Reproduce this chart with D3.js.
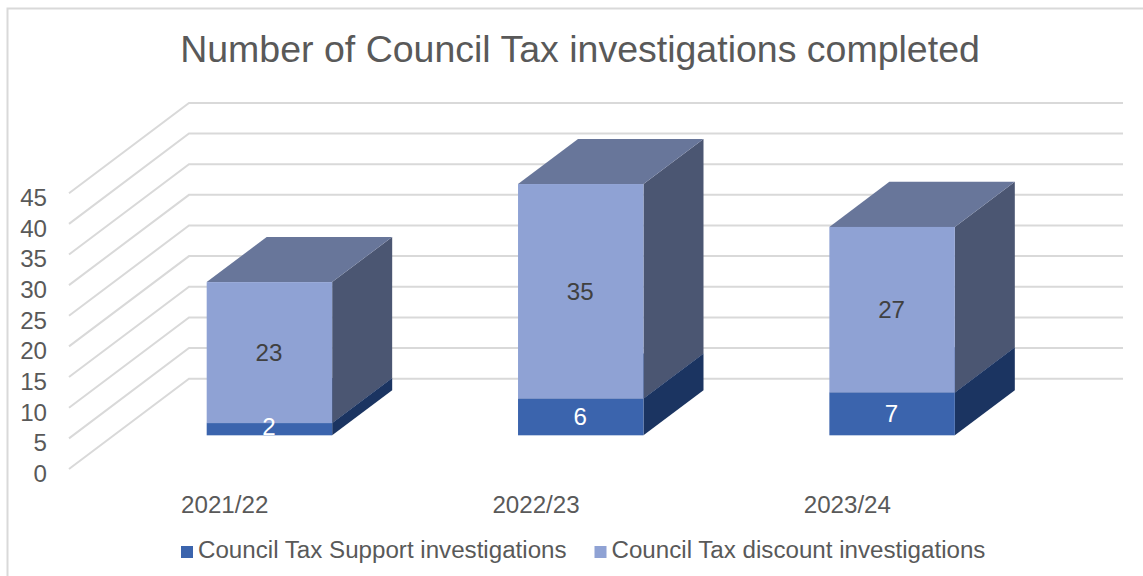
<!DOCTYPE html>
<html>
<head>
<meta charset="utf-8">
<script src="https://cdn.jsdelivr.net/npm/d3@7"></script>
<style>
html, body { margin: 0; padding: 0; background: #fff; }
svg { display: block; }
text { font-family: "Liberation Sans", Arial, sans-serif; }
</style>
</head>
<body>
<svg id="chart" width="1143" height="576"></svg>
<script>
const chartTitle = "Number of Council Tax investigations completed";
const categories = ["2021/22", "2022/23", "2023/24"];
const seriesNames = ["Council Tax Support investigations", "Council Tax discount investigations"];
const supportValues = [2, 6, 7];
const discountValues = [23, 35, 27];
const yTicks = [0, 5, 10, 15, 20, 25, 30, 35, 40, 45];

const frontColors = ["#3b64ad", "#8fa2d4"];
const sideColors = ["#1b3461", "#4b5672"];
const topColors = ["#2a4a85", "#68769a"];
const gridColor = "#d9d9d9";
const textColor = "#595959";
const labelSize = 24.15;

const svg = d3.select("#chart");

// Oblique projection: depth runs from 0 (front of the floor) to 1 (back wall).
const depthDx = 120, depthDy = -90.3;
const barDepthStart = 0.373, barDepthEnd = 0.873;
const y = d3.scaleLinear().domain([0, 45]).range([469, 193.2]);
const x = d3.scaleBand().domain(categories).range([69, 1003])
  .paddingInner(0.597).paddingOuter(0.2985);
const px = (xv, depth) => xv + depth * depthDx;
const py = (v, depth) => y(v) + depth * depthDy;
const wallRight = 1123;

// Chart frame
svg.append("path")
  .attr("d", "M1143,8.5H7.5V576")
  .attr("fill", "none").attr("stroke", gridColor).attr("stroke-width", 2);

// Title
svg.append("text").attr("x", 580).attr("y", 62)
  .attr("text-anchor", "middle").attr("font-size", 37.5)
  .attr("fill", textColor).text(chartTitle);

// Gridlines: along the floor side, then across the back wall
svg.append("g").selectAll("path").data(yTicks).join("path")
  .attr("d", t => d3.line()([
    [px(x.range()[0], 0), py(t, 0)],
    [px(x.range()[0], 1), py(t, 1)],
    [wallRight, py(t, 1)]
  ]))
  .attr("fill", "none").attr("stroke", gridColor).attr("stroke-width", 2);

// Stacked blocks
const stack = d3.stack().keys([0, 1]).value((d, k) => d[k]);
const rows = categories.map((c, i) => [supportValues[i], discountValues[i]]);
const layers = stack(rows);

layers.forEach((layer, k) => {
  const g = svg.append("g");
  layer.forEach((seg, i) => {
    const xl = x(categories[i]), xr = xl + x.bandwidth();
    const [v0, v1] = seg;
    const a = barDepthStart, b = barDepthEnd;
    const poly = pts => pts.map(p => p.join(",")).join(" ");
    g.append("polygon")
      .attr("points", poly([[px(xr, a), py(v0, a)], [px(xr, b), py(v0, b)], [px(xr, b), py(v1, b)], [px(xr, a), py(v1, a)]]))
      .attr("fill", sideColors[k]);
    g.append("polygon")
      .attr("points", poly([[px(xl, a), py(v1, a)], [px(xr, a), py(v1, a)], [px(xr, b), py(v1, b)], [px(xl, b), py(v1, b)]]))
      .attr("fill", topColors[k]);
    g.append("rect")
      .attr("x", px(xl, a)).attr("y", py(v1, a))
      .attr("width", x.bandwidth()).attr("height", py(v0, a) - py(v1, a))
      .attr("fill", frontColors[k]);
  });
});

// Value labels, centred on each front face
layers.forEach((layer, k) => {
  svg.append("g").selectAll("text").data(layer).join("text")
    .attr("x", (d, i) => px(x(categories[i]) + x.bandwidth() / 2, barDepthStart) - 0.5)
    .attr("y", d => py((d[0] + d[1]) / 2, barDepthStart))
    .attr("dy", (d, i) => (d[1] - d[0] < 3 ? "0.25em" : "0.35em"))
    .attr("text-anchor", "middle").attr("font-size", labelSize)
    .attr("fill", k === 0 ? "#ffffff" : "#404040")
    .text((d, i) => (k === 0 ? supportValues : discountValues)[i]);
});

// Value axis
const yAxis = svg.append("g").attr("transform", "translate(47,4.7)")
  .call(d3.axisLeft(y).tickValues(yTicks).tickSize(0).tickPadding(0));
yAxis.select(".domain").remove();
yAxis.selectAll("text").attr("font-size", labelSize).attr("fill", textColor)
  .style("font-family", '"Liberation Sans", Arial, sans-serif');

// Category axis
const xAxis = svg.append("g").attr("transform", "translate(0,496)")
  .call(d3.axisBottom(x).tickSize(0).tickPadding(0));
xAxis.select(".domain").remove();
xAxis.selectAll("text").attr("font-size", labelSize).attr("fill", textColor)
  .style("font-family", '"Liberation Sans", Arial, sans-serif');

// Legend
const legendSwatchX = [181, 594.5];
const legend = svg.append("g").selectAll("g").data(seriesNames).join("g")
  .attr("transform", (d, i) => `translate(${legendSwatchX[i]},0)`);
legend.append("rect").attr("x", 0).attr("y", 546).attr("width", 12).attr("height", 12)
  .attr("fill", (d, i) => frontColors[i]);
legend.append("text").attr("x", 17).attr("y", 558)
  .attr("font-size", labelSize).attr("fill", textColor).text(d => d);
</script>
</body>
</html>
